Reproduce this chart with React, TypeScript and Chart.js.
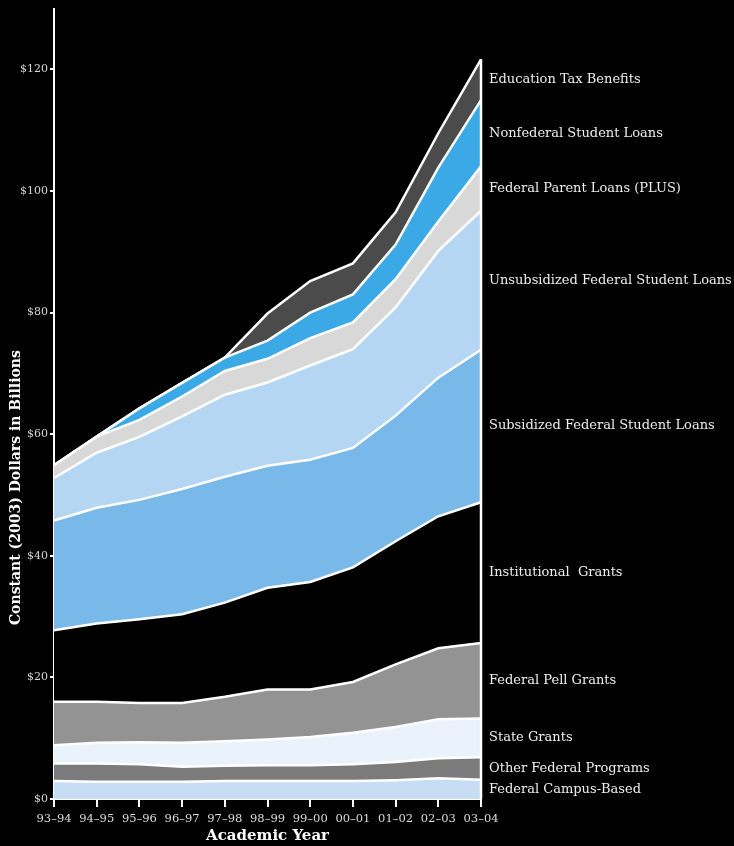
import React, { useEffect, useRef } from "react";
import { Chart, registerables } from "chart.js";

Chart.register(...registerables);

const years = ["93–94", "94–95", "95–96", "96–97", "97–98", "98–99", "99–00", "00–01", "01–02", "02–03", "03–04"];

const seriesNames = [
  "Federal Campus-Based",
  "Other Federal Programs",
  "State Grants",
  "Federal Pell Grants",
  "Institutional  Grants",
  "Subsidized Federal Student Loans",
  "Unsubsidized Federal Student Loans",
  "Federal Parent Loans (PLUS)",
  "Nonfederal Student Loans",
  "Education Tax Benefits",
];

const campusBased = [2.95, 2.85, 2.85, 2.85, 2.95, 2.95, 2.95, 2.95, 3.1, 3.4, 3.15];
const otherFederal = [2.9, 3.0, 2.85, 2.45, 2.5, 2.6, 2.6, 2.75, 3.0, 3.3, 3.7];
const stateGrants = [3.0, 3.4, 3.65, 3.95, 4.05, 4.25, 4.65, 5.2, 5.75, 6.4, 6.4];
const pellGrants = [7.15, 6.75, 6.45, 6.55, 7.3, 8.2, 7.8, 8.35, 10.3, 11.7, 12.4];
const institutionalGrants = [11.75, 12.85, 13.75, 14.6, 15.5, 16.75, 17.7, 18.85, 20.25, 21.7, 23.15];
const subsidizedLoans = [18.05, 19.05, 19.65, 20.6, 20.7, 20.05, 20.1, 19.65, 20.65, 22.8, 25.1];
const unsubsidizedLoans = [7.0, 9.05, 10.35, 11.95, 13.5, 13.7, 15.5, 16.25, 17.8, 20.85, 22.85];
const plusLoans = [2.1, 2.65, 2.8, 3.25, 3.9, 3.9, 4.5, 4.4, 4.65, 4.85, 7.3];
const nonfederalLoans = [0, 0, 1.9, 2.25, 2.2, 3.0, 4.2, 4.6, 5.7, 8.85, 10.9];
const taxBenefits = [0, 0, 0, 0, 0, 4.45, 5.2, 5.1, 5.3, 5.65, 6.7];

const yTicks = [0, 20, 40, 60, 80, 100, 120];
const yMax = 130;

const seriesValues = [
  campusBased,
  otherFederal,
  stateGrants,
  pellGrants,
  institutionalGrants,
  subsidizedLoans,
  unsubsidizedLoans,
  plusLoans,
  nonfederalLoans,
  taxBenefits,
];

const seriesColors = [
  "#c6ddf3",
  "#7b7b7b",
  "#eaf3fb",
  "#939393",
  "#000000",
  "#78b9ea",
  "#b4d6f3",
  "#d8d8d8",
  "#3aa9e6",
  "#4b4b4b",
];

const FONT = "'DejaVu Serif', 'Liberation Serif', serif";

export default function App() {
  const canvasRef = useRef<HTMLCanvasElement | null>(null);

  useEffect(() => {
    document.body.style.margin = "0";
    document.body.style.background = "#000";
    const canvas = canvasRef.current;
    if (!canvas) return;

    const overlay = {
      id: "overlay",
      afterDatasetsDraw(chart: any) {
        const ctx = chart.ctx;
        const xs = chart.scales.x;
        const ys = chart.scales.y;
        const last = years.length - 1;
        let total = 0;
        seriesValues.forEach((s) => (total += s[last]));
        const x = xs.getPixelForValue(last);
        ctx.save();
        ctx.strokeStyle = "#ffffff";
        ctx.lineWidth = 2.5;
        ctx.beginPath();
        ctx.moveTo(x, ys.getPixelForValue(0));
        ctx.lineTo(x, ys.getPixelForValue(total));
        ctx.stroke();
        ctx.restore();
      },
      afterDraw(chart: any) {
        const ctx = chart.ctx;
        const ys = chart.scales.y;
        const area = chart.chartArea;
        const last = years.length - 1;
        ctx.save();
        ctx.fillStyle = "#eeeeee";
        ctx.font = `13px ${FONT}`;
        ctx.textAlign = "left";
        ctx.textBaseline = "middle";
        let base = 0;
        seriesValues.forEach((s, i) => {
          const top = base + s[last];
          const mid = (base + top) / 2;
          ctx.fillText(seriesNames[i], area.right + 8, ys.getPixelForValue(mid));
          base = top;
        });
        // axis titles
        ctx.fillStyle = "#ffffff";
        ctx.font = `bold 15px ${FONT}`;
        ctx.textAlign = "center";
        ctx.textBaseline = "middle";
        ctx.fillText("Academic Year", (area.left + area.right) / 2, chart.height - 10);
        ctx.translate(16, area.top + (area.bottom - area.top) * 0.606);
        ctx.rotate(-Math.PI / 2);
        ctx.font = `bold 14px ${FONT}`;
        ctx.fillText("Constant (2003) Dollars in Billions", 0, 0);
        ctx.restore();
      },
    };

    const chart = new Chart(canvas, {
      type: "line",
      data: {
        labels: years,
        datasets: seriesValues.map((vals, i) => ({
          label: seriesNames[i],
          data: vals,
          backgroundColor: seriesColors[i],
          borderColor: "#ffffff",
          borderWidth: 2.5,
          pointRadius: 0,
          tension: 0,
          fill: i === 0 ? "origin" : "-1",
        })),
      },
      options: {
        responsive: false,
        animation: false,
        layout: { padding: { top: 8, right: 253, left: 0, bottom: 0 } },
        plugins: {
          legend: { display: false },
          tooltip: { enabled: false },
          title: { display: false },
        },
        scales: {
          x: {
            offset: false,
            grid: {
              display: true,
              drawOnChartArea: false,
              drawTicks: true,
              tickLength: 8,
              color: "#ffffff",
              lineWidth: 2,
            },
            border: { display: true, color: "#ffffff", width: 2 },
            ticks: {
              color: "#dddddd",
              font: { family: FONT, size: 11.5 },
              padding: 5,
              maxRotation: 0,
              autoSkip: false,
            },
            afterFit: (s: any) => {
              s.height = 47;
            },
          },
          y: {
            stacked: true,
            min: 0,
            max: yMax,
            grid: {
              display: true,
              drawOnChartArea: false,
              drawTicks: true,
              tickLength: 4,
              color: "#ffffff",
              lineWidth: 2,
            },
            border: { display: true, color: "#ffffff", width: 2 },
            ticks: {
              color: "#d6d6d6",
              font: { family: FONT, size: 11 },
              padding: 2,
              callback: (v: any) => "$" + v,
            },
            afterBuildTicks: (s: any) => {
              s.ticks = yTicks.map((v) => ({ value: v }));
            },
            afterFit: (s: any) => {
              s.width = 54;
            },
          },
        },
      },
      plugins: [overlay],
    });

    return () => chart.destroy();
  }, []);

  return (
    <div style={{ width: 734, height: 846, background: "#000" }}>
      <canvas ref={canvasRef} width={734} height={846} />
    </div>
  );
}
